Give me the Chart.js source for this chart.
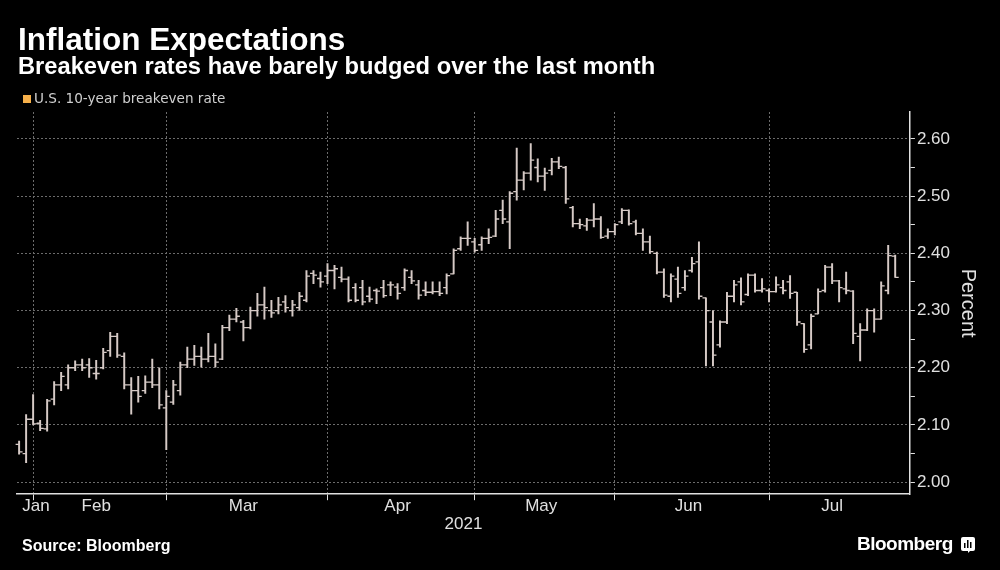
<!DOCTYPE html>
<html>
<head>
<meta charset="utf-8">
<script src="https://cdn.jsdelivr.net/npm/chart.js@4.4.1/dist/chart.umd.min.js"></script>
<style>
  html, body { margin: 0; padding: 0; background: #000; }
  #wrap { position: relative; width: 1000px; height: 570px; background: #000; overflow: hidden; }
  #chart { position: absolute; left: 0; top: 0; }
  .title { position: absolute; left: 18px; top: 21px; color: #fff; font: bold 31.5px "Liberation Sans", Arial, sans-serif; white-space: nowrap; }
  .subtitle { position: absolute; left: 18px; top: 53px; color: #fff; font: bold 23.7px "Liberation Sans", Arial, sans-serif; white-space: nowrap; }
  .legend { position: absolute; left: 23px; top: 90px; color: #cfcfcf; font: 13.6px "DejaVu Sans", sans-serif; white-space: nowrap; }
  .legend span { display: inline-block; width: 8px; height: 8px; background: #f6b04a; margin-right: 3px; }
  .source { position: absolute; left: 22px; top: 537px; color: #fff; font: bold 16px "Liberation Sans", Arial, sans-serif; }
  .logo { position: absolute; left: 857px; top: 533px; color: #fff; font: bold 19px "Liberation Sans", Arial, sans-serif; letter-spacing: -0.5px; }
  .logo svg { position: absolute; left: 104px; top: 4px; }
</style>
</head>
<body>
<div id="wrap">
  <canvas id="chart" width="1000" height="570"></canvas>
  <div class="title">Inflation Expectations</div>
  <div class="subtitle">Breakeven rates have barely budged over the last month</div>
  <div class="legend"><span></span>U.S. 10-year breakeven rate</div>
  <div class="source">Source: Bloomberg</div>
  <div class="logo">Bloomberg<svg width="14" height="16" viewBox="0 0 14 16"><rect x="0" y="0" width="14" height="14" rx="2" fill="#fff"/><path d="M7 14 L7 16 L9 14 Z" fill="#fff"/><rect x="3" y="6" width="1.5" height="5" fill="#000"/><rect x="6" y="3" width="1.5" height="8" fill="#000"/><rect x="9" y="5" width="1.5" height="6" fill="#000"/></svg></div>
</div>
<script>
// months shown and how many trading days (bars) each one has in view
const months = ['Jan', 'Feb', 'Mar', 'Apr', 'May', 'Jun', 'Jul'];
const monthBars = [2, 19, 23, 21, 20, 22, 19];
const yearLabel = '2021';

// daily OHLC of the 10-year breakeven rate
const opens = [
  2.066, 2.050,
  2.110, 2.103, 2.093, 2.145, 2.170, 2.170, 2.200, 2.205, 2.205, 2.190, 2.200, 2.230, 2.255, 2.220, 2.170, 2.160, 2.160, 2.175, 2.170,
  2.130, 2.140, 2.160, 2.205, 2.215, 2.220, 2.215, 2.220, 2.215, 2.270, 2.285, 2.280, 2.270, 2.300, 2.310, 2.300, 2.300, 2.315, 2.300, 2.305, 2.318, 2.365, 2.356,
  2.360, 2.370, 2.358, 2.355, 2.340, 2.340, 2.325, 2.335, 2.340, 2.345, 2.341, 2.340, 2.358, 2.345, 2.335, 2.332, 2.333, 2.340, 2.364, 2.408, 2.426,
  2.420, 2.415, 2.426, 2.430, 2.475, 2.455, 2.508, 2.528, 2.540, 2.550, 2.535, 2.545, 2.560, 2.550, 2.480, 2.452, 2.448, 2.458, 2.460, 2.430,
  2.438, 2.455, 2.475, 2.455, 2.435, 2.420, 2.400, 2.367, 2.325, 2.355, 2.340, 2.370, 2.385, 2.322, 2.280, 2.240, 2.280, 2.325, 2.350, 2.328, 2.362, 2.335,
  2.335, 2.333, 2.340, 2.350, 2.332, 2.277, 2.240, 2.294, 2.335, 2.376, 2.352, 2.338, 2.334, 2.255, 2.266, 2.300, 2.285, 2.335, 2.395
];
const highs = [
  2.072, 2.118,
  2.153, 2.108, 2.145, 2.176, 2.192, 2.205, 2.212, 2.215, 2.216, 2.213, 2.234, 2.262, 2.260, 2.226, 2.183, 2.185, 2.186, 2.215, 2.200,
  2.160, 2.178, 2.210, 2.236, 2.239, 2.236, 2.260, 2.242, 2.274, 2.292, 2.304, 2.283, 2.306, 2.330, 2.341, 2.318, 2.323, 2.326, 2.318, 2.332, 2.370, 2.370, 2.367,
  2.382, 2.379, 2.376, 2.359, 2.347, 2.353, 2.341, 2.338, 2.353, 2.350, 2.347, 2.373, 2.370, 2.353, 2.350, 2.350, 2.350, 2.364, 2.408, 2.429, 2.455,
  2.426, 2.429, 2.443, 2.475, 2.493, 2.508, 2.584, 2.543, 2.592, 2.565, 2.549, 2.566, 2.568, 2.552, 2.482, 2.460, 2.461, 2.487, 2.464, 2.443,
  2.452, 2.478, 2.476, 2.458, 2.443, 2.430, 2.402, 2.373, 2.364, 2.376, 2.370, 2.393, 2.420, 2.322, 2.300, 2.282, 2.332, 2.353, 2.357, 2.364, 2.364, 2.356,
  2.338, 2.359, 2.353, 2.361, 2.332, 2.277, 2.294, 2.338, 2.379, 2.382, 2.353, 2.367, 2.335, 2.277, 2.303, 2.303, 2.350, 2.414, 2.397
];
const lows = [
  2.049, 2.034,
  2.100, 2.090, 2.089, 2.135, 2.160, 2.163, 2.195, 2.195, 2.183, 2.180, 2.198, 2.220, 2.218, 2.163, 2.119, 2.140, 2.155, 2.165, 2.128,
  2.057, 2.136, 2.152, 2.200, 2.204, 2.201, 2.210, 2.201, 2.214, 2.265, 2.280, 2.247, 2.268, 2.290, 2.285, 2.288, 2.294, 2.297, 2.290, 2.300, 2.315, 2.347, 2.341,
  2.347, 2.338, 2.350, 2.315, 2.315, 2.310, 2.315, 2.312, 2.323, 2.326, 2.320, 2.335, 2.347, 2.320, 2.326, 2.329, 2.326, 2.329, 2.364, 2.405, 2.414,
  2.402, 2.405, 2.417, 2.429, 2.452, 2.408, 2.493, 2.511, 2.528, 2.525, 2.510, 2.537, 2.548, 2.487, 2.446, 2.443, 2.440, 2.446, 2.426, 2.426,
  2.432, 2.452, 2.449, 2.432, 2.405, 2.400, 2.364, 2.323, 2.315, 2.323, 2.335, 2.367, 2.320, 2.203, 2.203, 2.236, 2.277, 2.315, 2.310, 2.326, 2.332, 2.332,
  2.315, 2.332, 2.329, 2.321, 2.274, 2.227, 2.233, 2.294, 2.332, 2.347, 2.315, 2.329, 2.242, 2.212, 2.265, 2.262, 2.285, 2.329, 2.358
];
const closes = [
  2.053, 2.110,
  2.102, 2.094, 2.142, 2.170, 2.185, 2.200, 2.205, 2.200, 2.200, 2.190, 2.227, 2.255, 2.222, 2.170, 2.160, 2.150, 2.175, 2.170, 2.135,
  2.150, 2.170, 2.205, 2.215, 2.220, 2.215, 2.220, 2.210, 2.270, 2.285, 2.290, 2.270, 2.300, 2.310, 2.305, 2.296, 2.310, 2.305, 2.310, 2.325, 2.360, 2.362, 2.350,
  2.370, 2.373, 2.355, 2.318, 2.318, 2.315, 2.320, 2.334, 2.326, 2.345, 2.330, 2.370, 2.352, 2.327, 2.332, 2.333, 2.330, 2.361, 2.405, 2.426, 2.426,
  2.405, 2.426, 2.428, 2.460, 2.460, 2.505, 2.528, 2.540, 2.563, 2.535, 2.540, 2.560, 2.552, 2.495, 2.452, 2.450, 2.458, 2.460, 2.428, 2.438,
  2.450, 2.475, 2.452, 2.435, 2.420, 2.403, 2.367, 2.327, 2.360, 2.330, 2.360, 2.382, 2.325, 2.300, 2.222, 2.280, 2.325, 2.345, 2.315, 2.362, 2.335, 2.338,
  2.333, 2.345, 2.335, 2.330, 2.280, 2.232, 2.290, 2.333, 2.376, 2.352, 2.340, 2.335, 2.260, 2.266, 2.300, 2.285, 2.343, 2.396, 2.358
];

// y axis ticks: labelled every 0.10, minor marks every 0.05
const yTicks = [2.00, 2.05, 2.10, 2.15, 2.20, 2.25, 2.30, 2.35, 2.40, 2.45, 2.50, 2.55, 2.60];

const barColor = '#d6cac6';
const axisColor = '#e0e0e0';
const gridColor = '#6c6c6c';
const labelFont = { family: '"Liberation Sans", Arial, sans-serif', size: 17 };

// first bar of every month, and the middle of each month for its label
const monthStarts = [];
let acc = 0;
monthBars.forEach(n => { monthStarts.push(acc); acc += n; });
const monthMids = monthStarts.map((s, i) => s + (monthBars[i] - 1) / 2);
// the first month is too short to hold its label, nudge it inward like bloomberg does
monthMids[0] = Math.max(monthMids[0], 2.4);

const near = (a, b) => Math.abs(a - b) < 1e-6;
const isStart = v => monthStarts.slice(1).some(s => near(s, v));
const isMajorY = v => Math.abs(v * 10 - Math.round(v * 10)) < 1e-6;

// open tick on the left, close tick on the right
const ohlcTicks = {
    id: 'ohlcTicks',
    afterDatasetsDraw(chart) {
        const { ctx, scales: { x, y } } = chart;
        ctx.save();
        ctx.strokeStyle = barColor;
        ctx.lineWidth = 1.3;
        ctx.beginPath();
        opens.forEach((o, i) => {
            const px = x.getPixelForValue(i);
            const po = y.getPixelForValue(o);
            const pc = y.getPixelForValue(closes[i]);
            ctx.moveTo(px - 3.5, po); ctx.lineTo(px, po);
            ctx.moveTo(px, pc); ctx.lineTo(px + 3.5, pc);
        });
        ctx.stroke();
        ctx.restore();
    }
};

const ctx = document.getElementById('chart').getContext('2d');

const chart = new Chart(ctx, {
    type: 'bar',
    data: {
        datasets: [{
            label: 'U.S. 10-year breakeven rate',
            data: highs.map((h, i) => ({ x: i, y: [lows[i], h] })),
            backgroundColor: barColor,
            borderWidth: 0,
            barThickness: 1.3,
            borderSkipped: false
        }]
    },
    options: {
        responsive: false,
        devicePixelRatio: 1,
        animation: false,
        layout: { padding: { left: 17, top: 112, right: 20, bottom: 31 } },
        plugins: {
            legend: { display: false },
            tooltip: { enabled: false }
        },
        scales: {
            x: {
                type: 'linear',
                offset: false,
                min: -0.3,
                max: 127.1,
                afterBuildTicks: s => {
                    s.ticks = monthStarts.slice(1).concat(monthMids)
                        .sort((a, b) => a - b)
                        .map(v => ({ value: v }));
                },
                ticks: {
                    autoSkip: false,
                    maxRotation: 0,
                    minRotation: 0,
                    padding: -4,
                    color: axisColor,
                    font: labelFont,
                    callback: v => {
                        const k = monthMids.findIndex(m => near(m, v));
                        return k >= 0 ? months[k] : '';
                    }
                },
                grid: {
                    offset: false,
                    color: c => (c.tick && isStart(c.tick.value)) ? gridColor : 'rgba(0,0,0,0)',
                    tickColor: c => (c.tick && isStart(c.tick.value)) ? axisColor : 'rgba(0,0,0,0)',
                    tickLength: 6,
                    lineWidth: 1
                },
                border: { color: axisColor, width: 1.5, dash: [2, 2] },
                title: {
                    display: true,
                    text: yearLabel,
                    color: axisColor,
                    font: labelFont,
                    padding: { top: 2, bottom: 4 }
                }
            },
            y: {
                position: 'right',
                min: 1.979,
                max: 2.647,
                afterBuildTicks: s => { s.ticks = yTicks.map(v => ({ value: v })); },
                ticks: {
                    padding: 2,
                    color: axisColor,
                    font: labelFont,
                    callback: v => isMajorY(v) ? v.toFixed(2) : ''
                },
                grid: {
                    color: c => (c.tick && isMajorY(c.tick.value)) ? gridColor : 'rgba(0,0,0,0)',
                    tickColor: axisColor,
                    tickLength: 5,
                    lineWidth: 1
                },
                border: { color: axisColor, width: 1.5, dash: [2, 2] },
                title: {
                    display: true,
                    text: 'Percent',
                    color: axisColor,
                    font: { family: labelFont.family, size: 20 },
                    padding: { top: 0, bottom: 4 }
                }
            }
        }
    },
    plugins: [ohlcTicks]
});
</script>
</body>
</html>
